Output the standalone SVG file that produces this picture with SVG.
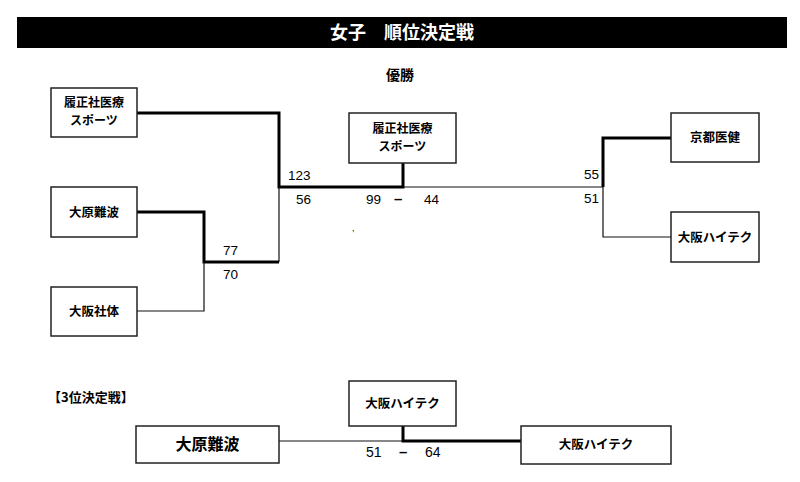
<svg xmlns="http://www.w3.org/2000/svg" width="800" height="482" viewBox="0 0 800 482">
<style>
.box{fill:#fff;stroke:#222;stroke-width:1.5}
.lbl{font-family:"Noto Sans CJK JP","Liberation Sans",sans-serif;font-weight:bold;font-size:12.5px;fill:#000;text-anchor:middle}
.two{font-size:12px}
.num{font-family:"Liberation Sans","Noto Sans",sans-serif;font-size:13.5px;fill:#000}
.dash{font-family:"Liberation Sans","Noto Sans",sans-serif;font-size:15px;font-weight:bold;fill:#000}
.thin{fill:none;stroke:#111;stroke-width:1.2}
.thick{fill:none;stroke:#000;stroke-width:3;stroke-linejoin:miter}
</style>
<rect width="800" height="482" fill="#fff"/>
<g id="title">
<rect x="17" y="17" width="770" height="31" fill="#000"/>
<text x="402" y="39" font-family="Noto Sans CJK JP,sans-serif" font-weight="bold" font-size="18" fill="#fff" text-anchor="middle">女子　順位決定戦</text>
</g>
<text x="400" y="80" class="lbl" style="font-size:14px">優勝</text>
<g id="connectors">
<polyline class="thick" points="137,113 279,113 279,187 403,187 403,163"/>
<polyline class="thin" points="279,187 279,262"/>
<polyline class="thick" points="137,212 204,212 204,262 279,262"/>
<polyline class="thin" points="204,262 204,311 137,311"/>
<polyline class="thin" points="403,187 603,187"/>
<polyline class="thick" points="671,138 603,138 603,187"/>
<polyline class="thin" points="603,187 603,237 671,237"/>
<polyline class="thin" points="279,441 403,441"/>
<polyline class="thick" points="403,426 403,441 521,441"/>
</g>
<g id="n1"><rect class="box" x="51" y="88" width="86" height="49"/><text class="lbl two" x="94" y="107">履正社医療</text><text class="lbl two" x="94" y="125">スポーツ</text></g>
<g id="n2"><rect class="box" x="51" y="187" width="86" height="50"/><text class="lbl" x="94" y="217">大原難波</text></g>
<g id="n3"><rect class="box" x="51" y="287" width="86" height="49"/><text class="lbl" x="94" y="316">大阪社体</text></g>
<g id="n4"><rect class="box" x="349" y="113" width="107" height="50"/><text class="lbl two" x="402.5" y="133">履正社医療</text><text class="lbl two" x="402.5" y="151">スポーツ</text></g>
<g id="n5"><rect class="box" x="671" y="113" width="88" height="49"/><text class="lbl" x="715" y="142">京都医健</text></g>
<g id="n6"><rect class="box" x="671" y="212" width="88" height="50"/><text class="lbl" x="715" y="242">大阪ハイテク</text></g>
<g id="n7"><rect class="box" x="349" y="381" width="107" height="45"/><text class="lbl" x="402.5" y="408">大阪ハイテク</text></g>
<g id="n8"><rect class="box" x="136" y="426" width="143" height="37"/><text class="lbl" x="207.5" y="450" style="font-size:16px">大原難波</text></g>
<g id="n9"><rect class="box" x="521" y="426" width="150" height="38"/><text class="lbl" x="596" y="449">大阪ハイテク</text></g>
<g id="scores">
<text class="num" x="288" y="180">123</text>
<text class="num" x="296" y="204">56</text>
<text class="num" x="223" y="255">77</text>
<text class="num" x="223" y="279">70</text>
<text class="num" x="366" y="204">99</text>
<text class="dash" x="394" y="204">–</text>
<text class="num" x="424" y="204">44</text>
<text class="num" x="584" y="179">55</text>
<text class="num" x="584" y="203">51</text>
<text class="num" x="352" y="231" style="font-size:9px">,</text>
<text class="num" x="366" y="457" style="font-size:14px">51</text>
<text class="dash" x="399" y="457">–</text>
<text class="num" x="425" y="457" style="font-size:14px">64</text>
</g>
<text x="48" y="402" font-family="Noto Sans CJK JP,sans-serif" font-weight="bold" font-size="13">【3位決定戦】</text>
</svg>
